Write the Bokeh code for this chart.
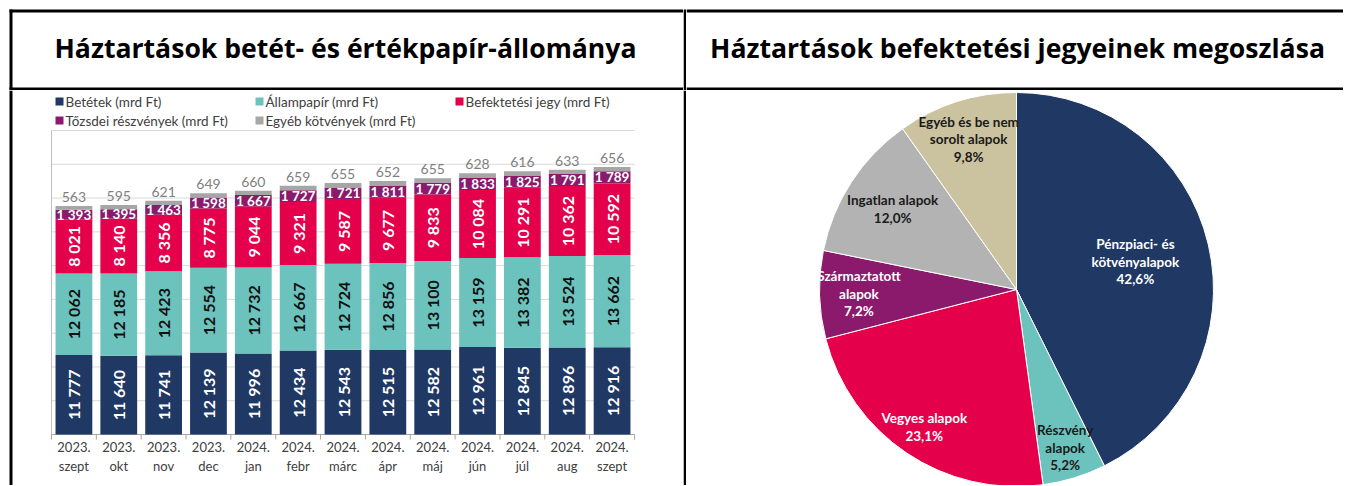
import math
from bokeh.plotting import figure
from bokeh.layouts import row, column
from bokeh.models import ColumnDataSource, Label, Range1d
from bokeh.core.properties import value
from bokeh.embed import file_html
from bokeh.resources import INLINE

FONT = "Lato"

# ---------------- data ----------------
months = ["2023.\nszept", "2023.\nokt", "2023.\nnov", "2023.\ndec", "2024.\njan",
          "2024.\nfebr", "2024.\nmárc", "2024.\nápr", "2024.\nmáj", "2024.\njún",
          "2024.\njúl", "2024.\naug", "2024.\nszept"]
betetek = [11777, 11640, 11741, 12139, 11996, 12434, 12543, 12515, 12582, 12961, 12845, 12896, 12916]
allampapir = [12062, 12185, 12423, 12554, 12732, 12667, 12724, 12856, 13100, 13159, 13382, 13524, 13662]
befjegy = [8021, 8140, 8356, 8775, 9044, 9321, 9587, 9677, 9833, 10084, 10291, 10362, 10592]
tozsdei = [1393, 1395, 1463, 1598, 1667, 1727, 1721, 1811, 1779, 1833, 1825, 1791, 1789]
egyeb = [563, 595, 621, 649, 660, 659, 655, 652, 655, 628, 616, 633, 656]
series_names = ["Betétek (mrd Ft)", "Állampapír (mrd Ft)", "Befektetési jegy (mrd Ft)",
                "Tőzsdei részvények (mrd Ft)", "Egyéb kötvények (mrd Ft)"]
y_grid_ticks = [0, 5000, 10000, 15000, 20000, 25000, 30000, 35000, 40000, 45000]

pie_labels = ["Pénzpiaci- és\nkötvényalapok", "Részvény\nalapok", "Vegyes alapok",
              "Származtatott\nalapok", "Ingatlan alapok", "Egyéb és be nem\nsorolt alapok"]
pie_values = [42.6, 5.2, 23.1, 7.2, 12.0, 9.8]

title_left = "Háztartások betét- és értékpapír-állománya"
title_right = "Háztartások befektetési jegyeinek megoszlása"

# ---------------- styles ----------------
bar_colors = ["#203864", "#6CC3BE", "#E4004B", "#8B1A6C", "#A6A6A6"]
pie_colors = ["#203864", "#6CC3BE", "#E4004B", "#8B1A6C", "#B3B3B3", "#CBC29F"]
pie_text_colors = ["white", "#1A1A1A", "white", "white", "#1A1A1A", "#1A1A1A"]
pie_label_radius = [0.62, 0.84, 0.84, 0.80, 0.75, 0.80]


def fmt(v):
    return f"{v:,}".replace(",", " ")


def base_fig(w, h, xr, yr):
    return figure(width=w, height=h, x_range=xr, y_range=yr, x_axis_type=None, y_axis_type=None,
                  min_border=0, min_border_left=0, min_border_right=0, min_border_top=0,
                  min_border_bottom=0, toolbar_location=None, outline_line_color=None,
                  background_fill_color="white", border_fill_color="white", output_backend="svg")


def pix_fig(x0, x1, y0, y1):
    # page-pixel coordinates, y growing downwards
    return base_fig(x1 - x0, y1 - y0, Range1d(x0, x1), Range1d(y1, y0))


def black_boxes(f, boxes):
    f.quad(left=[b[0] for b in boxes], right=[b[1] for b in boxes],
           top=[b[2] for b in boxes], bottom=[b[3] for b in boxes],
           fill_color="black", line_color=None)


def add_title(f, x, y, text):
    f.add_layout(Label(x=x, y=y, text=text, text_align="center", text_baseline="middle",
                       text_font="Open Sans", text_font_style="bold", text_font_size="26.6px",
                       text_color="black"))


# ---------------- title row (page y 0..90) ----------------
tl = pix_fig(0, 683, 0, 90)
black_boxes(tl, [(9, 683, 9, 12), (9, 683, 87, 90), (9, 12, 9, 90)])
add_title(tl, 345, 47, title_left)

dv1 = pix_fig(683, 686, 0, 90)
black_boxes(dv1, [(683, 686, 9, 90)])

tr = pix_fig(686, 1343, 0, 90)
black_boxes(tr, [(686, 1343, 9, 12), (686, 1343, 87, 90)])
add_title(tr, 1017, 47, title_right)

# ---------------- bar chart (page x 0..683, y 90..485) ----------------
n = len(months)
xs = list(range(n))
BW, BH = 683, 395
PL, PR = 51, 634          # plot area left / right (px inside figure)
AY, TY = 344, 40          # axis line / top gridline (px from figure top)
CAT = (PR - PL) / n
UNIT = (y_grid_ticks[-1] - y_grid_ticks[0]) / (AY - TY)


def xd(fx):
    return -0.5 + (fx - PL) / CAT


def yd(fy):
    return (AY - fy) * UNIT


p = base_fig(BW, BH, Range1d(xd(0), xd(BW)), Range1d(yd(BH), yd(0)))
black_boxes(p, [(xd(9), xd(12), yd(0), yd(BH))])

# gridlines and axes
gt = y_grid_ticks[1:]
p.segment(x0=[-0.5] * len(gt), x1=[n - 0.5] * len(gt), y0=gt, y1=gt,
          line_color="#D9D9D9", line_width=1)
p.segment(x0=[-0.5], x1=[-0.5], y0=[y_grid_ticks[0]], y1=[y_grid_ticks[-1]],
          line_color="#BFBFBF", line_width=1)
p.segment(x0=[-0.5], x1=[n - 0.5], y0=[0], y1=[0], line_color="#A6A6A6", line_width=1)
bounds = [i - 0.5 for i in range(n + 1)]
p.segment(x0=bounds, x1=bounds, y0=[0] * len(bounds), y1=[-5 * UNIT] * len(bounds),
          line_color="#A6A6A6", line_width=1)

keys = ["betetek", "allampapir", "befjegy", "tozsdei", "egyeb"]
src = ColumnDataSource(dict(x=xs, betetek=betetek, allampapir=allampapir, befjegy=befjegy,
                            tozsdei=tozsdei, egyeb=egyeb))
p.vbar_stack(keys, x="x", width=0.82, fill_color=bar_colors, line_color=None, source=src)

# segment labels
series = [betetek, allampapir, befjegy, tozsdei, egyeb]
cum = [[0] * n]
for s in series:
    cum.append([c + v for c, v in zip(cum[-1], s)])

rot_colors = ["white", "#111111", "white"]
for k in range(3):
    ls = ColumnDataSource(dict(x=xs, y=[cum[k][i] + series[k][i] / 2 for i in range(n)],
                               t=[fmt(v) for v in series[k]]))
    p.text(x="x", y="y", text="t", source=ls, angle=math.pi / 2, text_align="center",
           text_baseline="middle", text_font=value(FONT), text_font_style="bold",
           text_font_size="16px", text_color=rot_colors[k])

ls = ColumnDataSource(dict(x=xs, y=[cum[3][i] + tozsdei[i] / 2 for i in range(n)],
                           t=[fmt(v) for v in tozsdei]))
p.text(x="x", y="y", text="t", source=ls, text_align="center", text_baseline="middle",
       text_font=value(FONT), text_font_style="bold", text_font_size="13.5px", text_color="white")

ls = ColumnDataSource(dict(x=xs, y=cum[5], t=[fmt(v) for v in egyeb]))
p.text(x="x", y="y", text="t", source=ls, text_align="center", text_baseline="bottom",
       y_offset=-4, text_font=value(FONT), text_font_size="14px", text_color="#7F7F7F")

# category labels (two lines)
years = [m.split("\n")[0] for m in months]
mons = [m.split("\n")[1] for m in months]
for lab, off in ((years, 12), (mons, 31)):
    cs = ColumnDataSource(dict(x=xs, y=[-off * UNIT] * n, t=lab))
    p.text(x="x", y="y", text="t", source=cs, text_align="center", text_baseline="middle",
           text_font=value(FONT), text_font_size="13px", text_color="#404040")

# legend (row-major, 3 columns)
leg_x = [xd(55 + 200 * (i % 3)) for i in range(len(series_names))]
leg_y = [yd(11 + 19 * (i // 3)) for i in range(len(series_names))]
lsrc = ColumnDataSource(dict(gx=[x + 4 / CAT for x in leg_x], tx=[x + 10 / CAT for x in leg_x],
                             y=leg_y, c=bar_colors, t=series_names))
p.scatter(x="gx", y="y", marker="square", size=8, fill_color="c", line_color=None, source=lsrc)
p.text(x="tx", y="y", text="t", source=lsrc, text_align="left", text_baseline="middle",
       text_font=value(FONT), text_font_size="13.5px", text_color="#404040")

dv2 = pix_fig(683, 686, 90, 485)
black_boxes(dv2, [(683, 686, 90, 485)])

# ---------------- pie chart (page x 686..1343, y 90..485) ----------------
q = base_fig(657, 395, Range1d(686, 1343), Range1d(0, 395))
cx, cy, r = 1016, 485 - 289, 197
tot = sum(pie_values)
starts, ends, lx, ly = [], [], [], []
c = 0.0
for v, f in zip(pie_values, pie_label_radius):
    a0 = c / tot
    a1 = (c + v) / tot
    starts.append(math.pi / 2 - 2 * math.pi * a0)
    ends.append(math.pi / 2 - 2 * math.pi * a1)
    mid = 2 * math.pi * (a0 + a1) / 2
    lx.append(cx + f * r * math.sin(mid))
    ly.append(cy + f * r * math.cos(mid))
    c += v
psrc = ColumnDataSource(dict(s=starts, e=ends, col=pie_colors, lx=lx, ly=ly,
                             t=[f"{l}\n{str(v).replace('.', ',')}%" for l, v in zip(pie_labels, pie_values)],
                             tc=pie_text_colors))
q.wedge(x=cx, y=cy, radius=r, start_angle="s", end_angle="e", direction="clock",
        fill_color="col", line_color="white", line_width=1, source=psrc)
q.text(x="lx", y="ly", text="t", text_color="tc", source=psrc, text_align="center",
       text_baseline="middle", text_font=value(FONT), text_font_style="bold",
       text_font_size="13.5px", text_line_height=1.1)

# ---------------- layout ----------------
layout = column(row(tl, dv1, tr), row(p, dv2, q))

open("out.html", "w").write(file_html(layout, INLINE))
